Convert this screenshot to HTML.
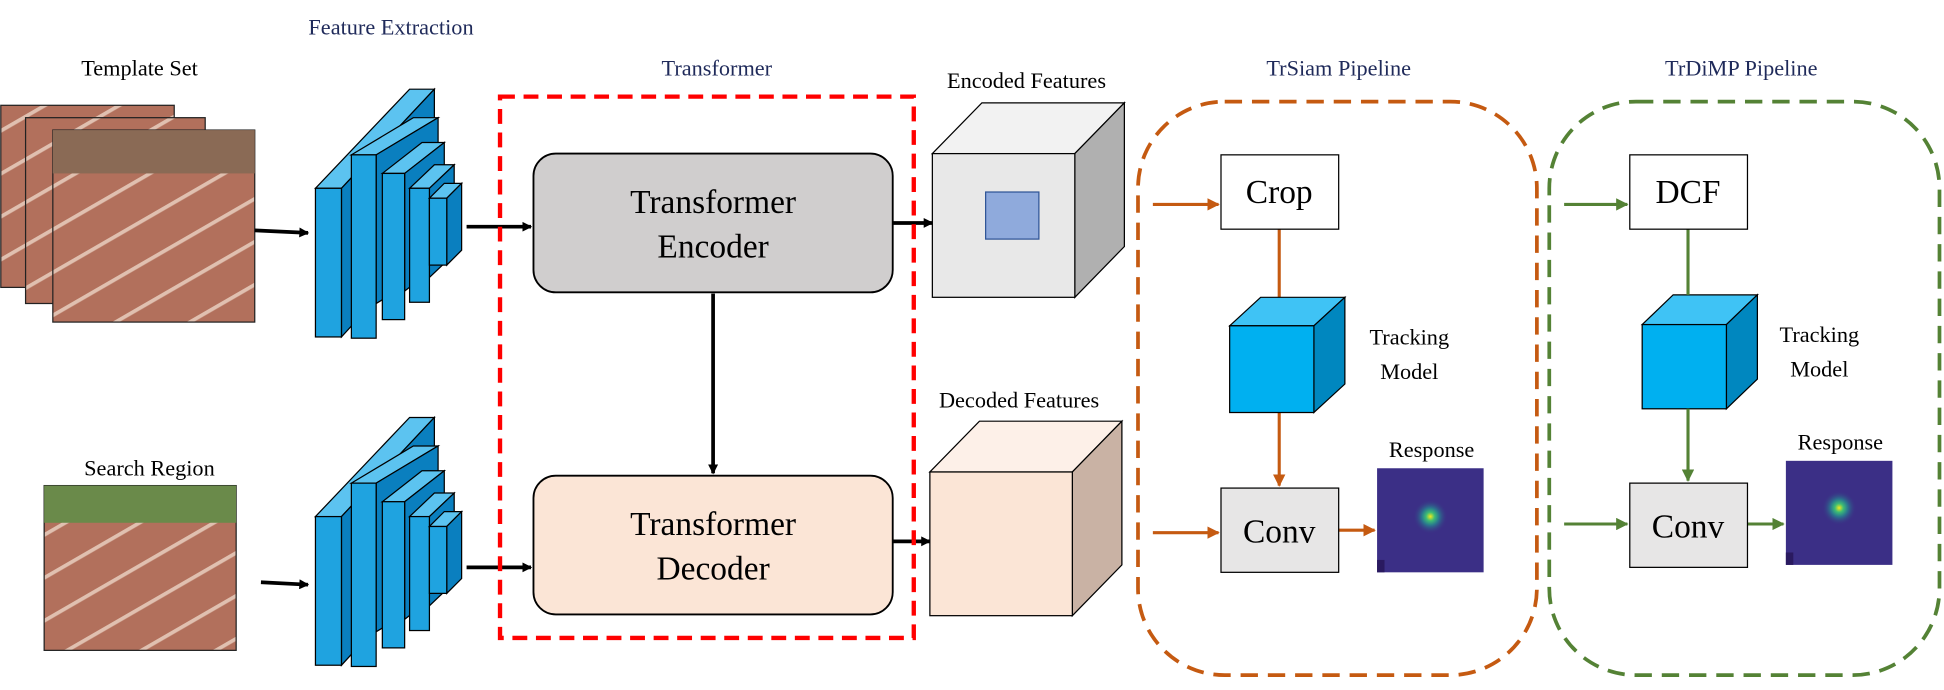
<!DOCTYPE html>
<html><head><meta charset="utf-8"><style>html,body{margin:0;padding:0;background:#fff}svg{display:block}</style></head>
<body>
<svg width="1944" height="690" viewBox="0 0 1568 557" xmlns="http://www.w3.org/2000/svg" font-family="Liberation Serif, serif">
<defs>
<marker id="ak" markerWidth="8" markerHeight="8" refX="7" refY="4" orient="auto" markerUnits="userSpaceOnUse"><path d="M0,0 L8,4 L0,8 z" fill="#000"/></marker>
<marker id="ao" markerWidth="10" markerHeight="10" refX="9" refY="5" orient="auto" markerUnits="userSpaceOnUse"><path d="M0,0 L10,5 L0,10 z" fill="#c55a11"/></marker>
<marker id="ag" markerWidth="10" markerHeight="10" refX="9" refY="5" orient="auto" markerUnits="userSpaceOnUse"><path d="M0,0 L10,5 L0,10 z" fill="#548235"/></marker>
<radialGradient id="hm" cx="0.5" cy="0.5" r="0.5"><stop offset="0" stop-color="#f4e81c"/><stop offset="0.25" stop-color="#3cbc75"/><stop offset="0.5" stop-color="#2a788e"/><stop offset="1" stop-color="#3b2f86" stop-opacity="0"/></radialGradient>
<pattern id="trk" width="30" height="30" patternUnits="userSpaceOnUse" patternTransform="rotate(-30)"><rect width="30" height="30" fill="#b2705c"/><rect width="30" height="3" fill="#e0c0b0"/></pattern>
</defs>

<g fill="#1f2a5a" font-size="18" text-anchor="middle">
<text x="315" y="28">Feature Extraction</text>
<text x="578" y="61">Transformer</text>
<text x="1080" y="61">TrSiam Pipeline</text>
<text x="1405" y="61">TrDiMP Pipeline</text>
</g>
<g fill="#000" font-size="18" text-anchor="middle">
<text x="112" y="61">Template Set</text>
<text x="120" y="384">Search Region</text>
<text x="828" y="71">Encoded Features</text>
<text x="822" y="329">Decoded Features</text>
<text x="1155" y="369">Response</text>
<text x="1485" y="363">Response</text>
<text x="1137" y="278">Tracking</text>
<text x="1137" y="306">Model</text>
<text x="1468" y="276">Tracking</text>
<text x="1468" y="304">Model</text>
</g>

<rect x="0" y="85" width="140" height="147" fill="url(#trk)" stroke="#222"/>
<rect x="20" y="95" width="145" height="150" fill="url(#trk)" stroke="#222"/>
<rect x="42" y="105" width="163" height="155" fill="url(#trk)" stroke="#222"/>
<rect x="42" y="105" width="163" height="35" fill="#8a6a55"/>
<rect x="35" y="392" width="155" height="133" fill="url(#trk)" stroke="#222"/>
<rect x="35" y="392" width="155" height="30" fill="#6a8a4a"/>

<g stroke="#000" stroke-width="3" marker-end="url(#ak)">
<line x1="205" y1="186" x2="248" y2="188"/>
<line x1="210" y1="470" x2="248" y2="472"/>
<line x1="376" y1="183" x2="428" y2="183"/>
<line x1="376" y1="458" x2="428" y2="458"/>
<line x1="720" y1="180" x2="752" y2="180"/>
<line x1="720" y1="437" x2="750" y2="437"/>
<line x1="575" y1="237" x2="575" y2="382"/>
</g>

<g id="cnn" stroke="#000" stroke-width="1">
<polygon points="254,152 330,72 350,72 275,152" fill="#5cc3f0"/><polygon points="275,152 350,72 350,190 275,272" fill="#0a7fbf"/><rect x="254" y="152" width="21" height="120" fill="#1fa3e0"/>
<polygon points="283,125 333,95 353,95 303,125" fill="#5cc3f0"/><polygon points="303,125 353,95 353,215 303,245" fill="#0a7fbf"/><rect x="283" y="125" width="20" height="148" fill="#1fa3e0"/>
<polygon points="308,140 340,115 358,115 326,140" fill="#5cc3f0"/><polygon points="326,140 358,115 358,210 326,235" fill="#0a7fbf"/><rect x="308" y="140" width="18" height="118" fill="#1fa3e0"/>
<polygon points="330,152 350,133 366,133 346,152" fill="#5cc3f0"/><polygon points="346,152 366,133 366,205 346,224" fill="#0a7fbf"/><rect x="330" y="152" width="16" height="92" fill="#1fa3e0"/>
<polygon points="346,160 358,148 372,148 360,160" fill="#5cc3f0"/><polygon points="360,160 372,148 372,202 360,214" fill="#0a7fbf"/><rect x="346" y="160" width="14" height="54" fill="#1fa3e0"/>
</g>
<use href="#cnn" transform="translate(0,265)"/>

<rect x="403" y="78" width="334" height="437" fill="none" stroke="#ff0000" stroke-width="3.5" stroke-dasharray="12,7"/>
<rect x="430" y="124" width="290" height="112" rx="18" fill="#d0cece" stroke="#000" stroke-width="1.5"/>
<rect x="430" y="384" width="290" height="112" rx="18" fill="#fbe5d6" stroke="#000" stroke-width="1.5"/>
<g font-size="27" text-anchor="middle" fill="#000">
<text x="575" y="172">Transformer</text><text x="575" y="208">Encoder</text>
<text x="575" y="432">Transformer</text><text x="575" y="468">Decoder</text>
</g>

<g stroke="#000" stroke-width="1">
<polygon points="752,124 792,83 907,83 867,124" fill="#f2f2f2"/>
<polygon points="867,124 907,83 907,199 867,240" fill="#b0b0b0"/>
<rect x="752" y="124" width="115" height="116" fill="#e8e8e8"/>
<rect x="795" y="155" width="43" height="38" fill="#8faadc" stroke="#2f5597"/>
<polygon points="750,381 790,340 905,340 865,381" fill="#fdf0e8"/>
<polygon points="865,381 905,340 905,456 865,497" fill="#c9b2a4"/>
<rect x="750" y="381" width="115" height="116" fill="#fbe5d6"/>
</g>

<rect x="918" y="82" width="322" height="463" rx="70" fill="none" stroke="#c55a11" stroke-width="3" stroke-dasharray="14,8"/>
<g stroke="#c55a11" stroke-width="2.5">
<line x1="930" y1="165" x2="983" y2="165" marker-end="url(#ao)"/>
<line x1="1032" y1="185" x2="1032" y2="240"/>
<line x1="1032" y1="333" x2="1032" y2="392" marker-end="url(#ao)"/>
<line x1="930" y1="430" x2="983" y2="430" marker-end="url(#ao)"/>
<line x1="1080" y1="428" x2="1109" y2="428" marker-end="url(#ao)"/>
</g>
<rect x="985" y="125" width="95" height="60" fill="#fff" stroke="#000"/>
<rect x="985" y="394" width="95" height="68" fill="#e7e6e6" stroke="#000"/>
<g stroke="#000" stroke-width="1">
<polygon points="992,263 1017,240 1085,240 1060,263" fill="#3fc3f5"/>
<polygon points="1060,263 1085,240 1085,310 1060,333" fill="#0087bf"/>
<rect x="992" y="263" width="68" height="70" fill="#00b0f0"/>
<polygon points="1325,262 1350,238 1418,238 1393,262" fill="#3fc3f5"/>
<polygon points="1393,262 1418,238 1418,306 1393,330" fill="#0087bf"/>
<rect x="1325" y="262" width="68" height="68" fill="#00b0f0"/>
</g>
<g font-size="27" text-anchor="middle">
<text x="1032" y="164">Crop</text><text x="1032" y="438">Conv</text>
<text x="1362" y="164">DCF</text><text x="1362" y="434">Conv</text>
</g>
<rect x="1111" y="378" width="86" height="84" fill="#3b2f86"/>
<circle cx="1154" cy="417" r="14" fill="url(#hm)"/>
<rect x="1111" y="452" width="6" height="10" fill="#2a1a60"/>

<rect x="1250" y="82" width="315" height="463" rx="70" fill="none" stroke="#548235" stroke-width="3" stroke-dasharray="14,8"/>
<g stroke="#548235" stroke-width="2.5">
<line x1="1262" y1="165" x2="1313" y2="165" marker-end="url(#ag)"/>
<line x1="1362" y1="185" x2="1362" y2="238"/>
<line x1="1362" y1="330" x2="1362" y2="388" marker-end="url(#ag)"/>
<line x1="1262" y1="423" x2="1313" y2="423" marker-end="url(#ag)"/>
<line x1="1410" y1="423" x2="1439" y2="423" marker-end="url(#ag)"/>
</g>
<rect x="1315" y="125" width="95" height="60" fill="#fff" stroke="#000"/>
<rect x="1315" y="390" width="95" height="68" fill="#e7e6e6" stroke="#000"/>
<g font-size="27" text-anchor="middle">
<text x="1362" y="164">DCF</text><text x="1362" y="434">Conv</text>
</g>
<rect x="1441" y="372" width="86" height="84" fill="#3b2f86"/>
<circle cx="1484" cy="410" r="14" fill="url(#hm)"/>
<rect x="1441" y="446" width="6" height="10" fill="#2a1a60"/>
</svg>
</body></html>
